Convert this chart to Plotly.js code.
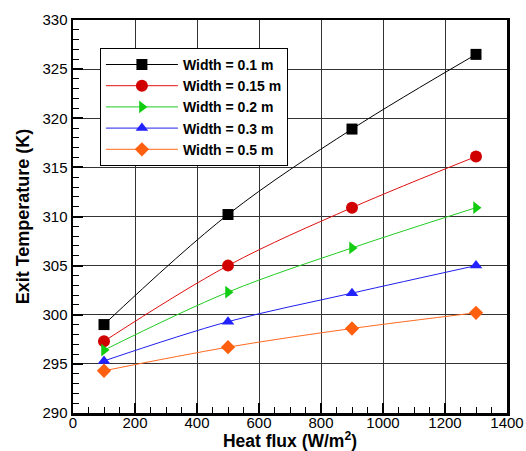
<!DOCTYPE html>
<html>
<head>
<meta charset="utf-8">
<script src="https://cdn.plot.ly/plotly-3.0.1.min.js"></script>
<style>html,body{margin:0;padding:0;background:#fff;}#chart{width:526px;height:451px;}</style>
</head>
<body>
<div id="chart"></div>
<script>
const heatFlux = [100, 500, 900, 1300];
const seriesNames = ["Width = 0.1 m", "Width = 0.15 m", "Width = 0.2 m", "Width = 0.3 m", "Width = 0.5 m"];
const w01 = [299.0, 310.2, 318.9, 326.5];
const w015 = [297.3, 305.0, 310.9, 316.1];
const w02 = [296.4, 302.3, 306.8, 310.9];
const w03 = [295.3, 299.3, 302.2, 305.0];
const w05 = [294.3, 296.7, 298.6, 300.2];
const xTicks = [0, 200, 400, 600, 800, 1000, 1200, 1400];
const yTicks = [290, 295, 300, 305, 310, 315, 320, 325, 330];

const allY = [w01, w015, w02, w03, w05];
const lineColors = ["#000000", "#e01010", "#22cc22", "#2020ee", "#ff6a20"];
const markerColors = ["#000000", "#d00000", "#11cc11", "#2222ff", "#ff6010"];
const symbols = ["square", "circle", "triangle-right", "triangle-up", "diamond"];
const sizes = [11, 12, 11, 11, 11];

const traces = allY.map((ys, i) => ({
  x: heatFlux, y: ys, name: seriesNames[i], type: "scatter", mode: "lines+markers",
  line: {color: lineColors[i], width: 1, shape: "spline"},
  marker: {color: markerColors[i], symbol: symbols[i], size: sizes[i]}
}));

const FF = "Liberation Sans, Arial, sans-serif";
const layout = {
  width: 526, height: 451,
  margin: {l: 73, r: 19, t: 20, b: 38},
  paper_bgcolor: "#fff", plot_bgcolor: "#fff",
  font: {family: FF, color: "#000"},
  showlegend: true,
  legend: {
    x: 0.062, y: 0.929, xanchor: "left", yanchor: "top",
    bgcolor: "#fff", bordercolor: "#000", borderwidth: 1,
    font: {family: FF, size: 14, color: "#000", weight: "bold"},
    tracegroupgap: 0, itemwidth: 72
  },
  xaxis: {
    range: [0, 1400], tickvals: xTicks, ticktext: xTicks.map(String),
    showgrid: true, gridcolor: "#333", gridwidth: 1,
    ticks: "inside", ticklen: 10, tickwidth: 2, tickcolor: "#000",
    minor: {dtick: 50, ticks: "inside", ticklen: 6, tickwidth: 1, tickcolor: "#000", showgrid: false},
    showline: true, linecolor: "#000", linewidth: 2.5, mirror: true,
    zeroline: false, ticklabelstandoff: -6,
    tickfont: {size: 15, family: FF},
    title: {text: "Heat flux (W/m<sup>2</sup>)", font: {size: 17.5, weight: "bold", family: FF}, standoff: 0}
  },
  yaxis: {
    range: [290, 330], tickvals: yTicks, ticktext: yTicks.map(String),
    showgrid: true, gridcolor: "#333", gridwidth: 1,
    ticks: "inside", ticklen: 10, tickwidth: 2, tickcolor: "#000",
    minor: {dtick: 1, ticks: "inside", ticklen: 6, tickwidth: 1, tickcolor: "#000", showgrid: false},
    showline: true, linecolor: "#000", linewidth: 2.5, mirror: true,
    zeroline: false,
    tickfont: {size: 15, family: FF},
    title: {text: "Exit Temperature (K)", font: {size: 18, weight: "bold", family: FF}, standoff: 8}
  }
};
Plotly.newPlot("chart", traces, layout, {displayModeBar: false, staticPlot: true});
</script>
</body>
</html>
